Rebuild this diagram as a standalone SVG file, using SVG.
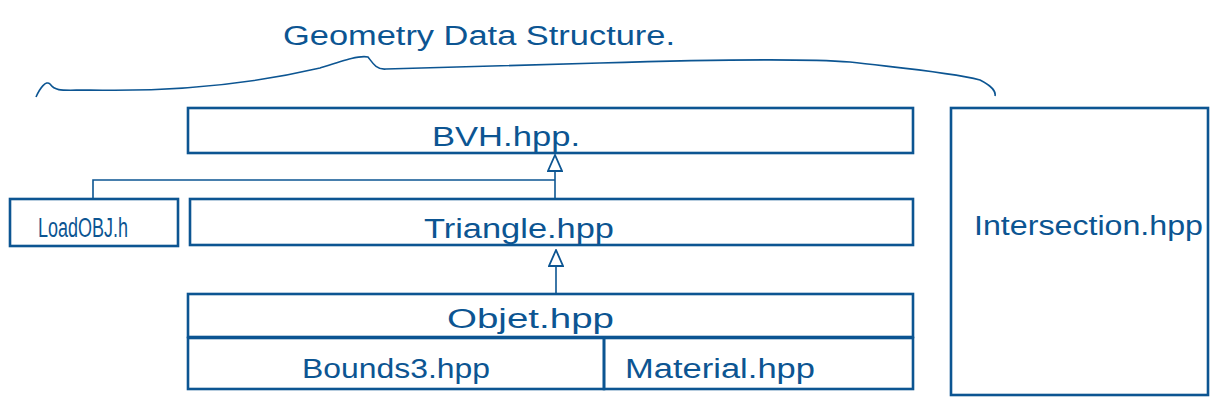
<svg xmlns="http://www.w3.org/2000/svg" width="1226" height="415" viewBox="0 0 1226 415">
<style>
.box{fill:none;stroke:#0c5592;stroke-width:2.6}
.ln{fill:none;stroke:#0c5592;stroke-width:1.6}
.t{font-family:"Liberation Sans",Arial,sans-serif;font-size:27px;fill:#0c5592}
</style>
<defs>
<marker id="ah" viewBox="0 0 18 16" refX="17" refY="8" markerWidth="18" markerHeight="16" markerUnits="userSpaceOnUse" orient="auto">
<path d="M17,8 L1,1 L1,15 Z" fill="#fff" stroke="#0c5592" stroke-width="1.8"/>
</marker>
</defs>
<g id="title">
<text class="t" x="283" y="45" textLength="392" lengthAdjust="spacingAndGlyphs">Geometry Data Structure.</text>
<path class="ln" d="M36,97 C40,88 46,80 50,84 C56,92 62,90 90,90 C180,92 260,82 320,68 C345,60 360,55 368,57 C372,62 376,70 386,69 C440,68 520,65 600,63 C700,60 800,58 850,62 C900,68 950,72 980,80 C992,86 996,92 995,96" stroke-width="1.8"/>
</g>
<g id="bvh">
<rect class="box" x="188" y="108" width="725" height="45"/>
<text class="t" x="432" y="146" textLength="148" lengthAdjust="spacingAndGlyphs">BVH.hpp.</text>
</g>
<g id="loadobj">
<rect class="box" x="10" y="199" width="168" height="47"/>
<text class="t" x="38" y="237" textLength="90" lengthAdjust="spacingAndGlyphs">LoadOBJ.h</text>
</g>
<g id="triangle">
<rect class="box" x="190" y="199" width="723" height="46"/>
<text class="t" x="424" y="238" textLength="190" lengthAdjust="spacingAndGlyphs">Triangle.hpp</text>
</g>
<g id="object">
<rect class="box" x="188" y="294" width="725" height="43"/>
<text class="t" x="447" y="328" textLength="167" lengthAdjust="spacingAndGlyphs">Objet.hpp</text>
</g>
<g id="bounds3">
<rect class="box" x="188" y="338" width="416" height="51"/>
<text class="t" x="302" y="378" textLength="188" lengthAdjust="spacingAndGlyphs">Bounds3.hpp</text>
</g>
<g id="material">
<rect class="box" x="604" y="338" width="309" height="51"/>
<text class="t" x="625" y="378" textLength="190" lengthAdjust="spacingAndGlyphs">Material.hpp</text>
</g>
<g id="intersection">
<rect class="box" x="951" y="108" width="257" height="287"/>
<text class="t" x="974" y="235" textLength="229" lengthAdjust="spacingAndGlyphs">Intersection.hpp</text>
</g>
<g id="connectors">
<line class="ln" x1="555" y1="199" x2="555" y2="155" marker-end="url(#ah)"/>
<polyline class="ln" points="93,199 93,180 555,180"/>
<line class="ln" x1="556" y1="294" x2="556" y2="250" marker-end="url(#ah)"/>
</g>
</svg>
